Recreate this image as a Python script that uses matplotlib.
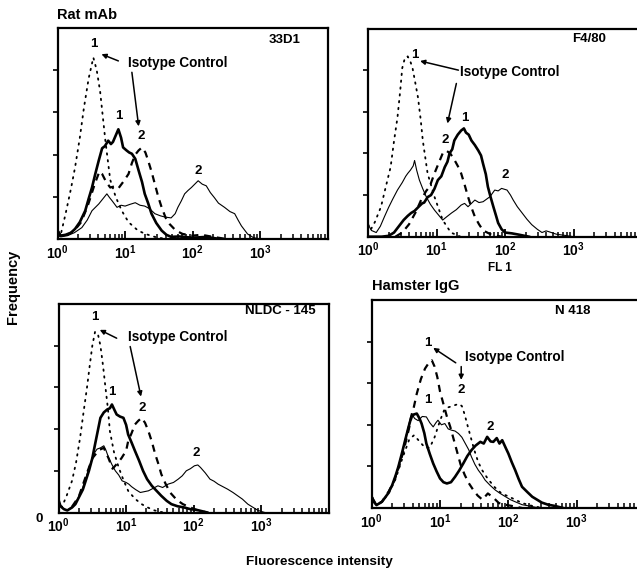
import numpy as np
import matplotlib
matplotlib.use("Agg")
import matplotlib.pyplot as plt
from matplotlib.ticker import FixedLocator, NullFormatter, FixedFormatter, LogLocator

plt.rcParams['font.family'] = ['Liberation Sans', 'DejaVu Sans']
plt.rcParams['mathtext.fontset'] = 'custom'
plt.rcParams['mathtext.rm'] = 'Liberation Sans:bold'
plt.rcParams['mathtext.bf'] = 'Liberation Sans:bold'

# ---------------- data (x in log10 decades of FL1, y in frequency units) -------------
tick_values = [1, 10, 100, 1000]
tick_labels = [r'$\mathbf{10^{0}}$', r'$\mathbf{10^{1}}$', r'$\mathbf{10^{2}}$', r'$\mathbf{10^{3}}$']
panel_names = ['33D1', 'F4/80', 'NLDC - 145', 'N 418']

# Panel A : 33D1
a_dot_d = [0.0, 0.04, 0.12, 0.2, 0.26, 0.33, 0.39, 0.46, 0.53, 0.58, 0.63, 0.67, 0.71, 0.78, 0.86, 0.95, 1.05, 1.19, 1.3, 1.44, 1.6]
a_dot_v = [0.25, 0.05, 0.6, 1.2, 1.7, 2.4, 3.1, 3.8, 4.3, 4.0, 3.5, 2.9, 2.3, 1.4, 1.0, 0.67, 0.4, 0.2, 0.12, 0.05, 0.0]
a_thick_d = [0.0, 0.05, 0.12, 0.2, 0.26, 0.33, 0.41, 0.46, 0.51, 0.56, 0.61, 0.66, 0.7, 0.75, 0.79, 0.82, 0.86, 0.9, 0.94, 0.97, 1.02, 1.06, 1.1, 1.15, 1.2, 1.25, 1.29, 1.34, 1.39, 1.46, 1.54, 1.61, 1.68, 1.8, 2.0, 2.2, 2.4]
a_thick_v = [0.2, 0.08, 0.1, 0.15, 0.24, 0.4, 0.67, 0.95, 1.22, 1.55, 1.86, 2.15, 2.2, 2.33, 2.25, 2.3, 2.45, 2.6, 2.4, 2.17, 2.1, 2.05, 2.02, 1.9, 1.62, 1.35, 1.07, 0.85, 0.6, 0.38, 0.2, 0.1, 0.05, 0.06, 0.03, 0.05, 0.0]
a_thin_d = [0.0, 0.05, 0.15, 0.25, 0.36, 0.44, 0.51, 0.56, 0.61, 0.67, 0.73, 0.77, 0.81, 0.88, 0.94, 1.0, 1.07, 1.15, 1.22, 1.29, 1.36, 1.44, 1.52, 1.59, 1.68, 1.74, 1.78, 1.83, 1.88, 1.93, 1.98, 2.03, 2.08, 2.14, 2.2, 2.26, 2.32, 2.38, 2.47, 2.55, 2.62, 2.67, 2.72, 2.81, 2.9, 3.0]
a_thin_v = [0.2, 0.05, 0.08, 0.15, 0.27, 0.45, 0.67, 0.75, 0.83, 0.95, 1.07, 0.98, 0.9, 0.75, 0.8, 0.78, 0.82, 0.86, 0.8, 0.78, 0.72, 0.6, 0.55, 0.52, 0.5, 0.6, 0.75, 0.9, 1.07, 1.15, 1.22, 1.3, 1.38, 1.3, 1.26, 1.1, 0.98, 0.85, 0.75, 0.65, 0.6, 0.45, 0.31, 0.12, 0.03, 0.0]
a_dash_d = [0.0, 0.05, 0.15, 0.25, 0.35, 0.45, 0.55, 0.62, 0.66, 0.72, 0.78, 0.85, 0.9, 0.97, 1.05, 1.1, 1.15, 1.2, 1.25, 1.3, 1.34, 1.39, 1.44, 1.49, 1.54, 1.6, 1.66, 1.75, 1.85, 2.0, 2.13, 2.3, 2.5]
a_dash_v = [0.2, 0.05, 0.1, 0.2, 0.4, 0.8, 1.3, 1.6, 1.54, 1.35, 1.22, 1.25, 1.2, 1.35, 1.54, 1.8, 2.0, 2.1, 2.17, 2.05, 1.86, 1.6, 1.3, 1.0, 0.75, 0.5, 0.35, 0.2, 0.12, 0.08, 0.1, 0.05, 0.0]

# Panel B : F4/80
b_dot_d = [0.0, 0.04, 0.1, 0.19, 0.26, 0.33, 0.38, 0.43, 0.47, 0.5, 0.54, 0.58, 0.62, 0.65, 0.69, 0.73, 0.77, 0.8, 0.87, 0.97, 1.09, 1.21, 1.35]
b_dot_v = [0.3, 0.17, 0.35, 0.72, 1.2, 1.67, 2.3, 2.86, 3.5, 4.05, 4.3, 4.33, 4.2, 4.05, 3.7, 3.34, 2.8, 2.31, 1.52, 0.96, 0.4, 0.1, 0.0]
b_thin_d = [0.0, 0.05, 0.12, 0.18, 0.24, 0.3, 0.36, 0.43, 0.5, 0.55, 0.58, 0.62, 0.66, 0.68, 0.71, 0.75, 0.8, 0.85, 0.91, 0.97, 1.03, 1.09, 1.15, 1.22, 1.29, 1.36, 1.41, 1.46, 1.51, 1.56, 1.62, 1.68, 1.73, 1.78, 1.85, 1.9, 1.95, 2.03, 2.08, 2.12, 2.18, 2.25, 2.32, 2.39, 2.47, 2.54, 2.6, 2.64, 2.75, 2.88, 3.0]
b_thin_v = [0.3, 0.15, 0.1, 0.25, 0.48, 0.7, 0.9, 1.12, 1.3, 1.45, 1.52, 1.6, 1.7, 1.83, 1.6, 1.36, 1.15, 0.96, 0.78, 0.64, 0.52, 0.4, 0.48, 0.57, 0.65, 0.76, 0.8, 0.72, 0.8, 0.88, 0.82, 0.84, 0.9, 0.96, 1.12, 1.1, 1.16, 1.12, 1.0, 0.88, 0.72, 0.57, 0.42, 0.29, 0.18, 0.1, 0.14, 0.12, 0.06, 0.03, 0.0]
b_thick_d = [0.0, 0.1, 0.2, 0.3, 0.38, 0.45, 0.52, 0.58, 0.63, 0.68, 0.74, 0.79, 0.82, 0.87, 0.92, 0.97, 1.02, 1.07, 1.12, 1.16, 1.19, 1.23, 1.26, 1.31, 1.36, 1.4, 1.43, 1.47, 1.51, 1.56, 1.61, 1.65, 1.68, 1.72, 1.75, 1.79, 1.83, 1.87, 1.9, 1.95, 2.0, 2.1, 2.2, 2.35]
b_thick_v = [0.0, 0.0, 0.0, 0.02, 0.1, 0.25, 0.4, 0.5, 0.57, 0.62, 0.72, 0.8, 0.82, 0.95, 1.0, 1.15, 1.36, 1.45, 1.67, 1.8, 2.0, 2.1, 2.31, 2.45, 2.55, 2.6, 2.5, 2.45, 2.31, 2.2, 2.07, 1.95, 1.75, 1.5, 1.2, 0.95, 0.72, 0.5, 0.33, 0.18, 0.1, 0.08, 0.05, 0.0]
b_dash_d = [0.4, 0.5, 0.6, 0.7, 0.78, 0.85, 0.9, 0.97, 1.04, 1.09, 1.14, 1.2, 1.26, 1.31, 1.36, 1.41, 1.46, 1.51, 1.56, 1.62, 1.68, 1.8, 1.95]
b_dash_v = [0.0, 0.1, 0.3, 0.6, 0.9, 1.1, 1.2, 1.52, 1.8, 2.0, 2.07, 2.0, 1.85, 1.7, 1.52, 1.25, 0.96, 0.7, 0.48, 0.3, 0.15, 0.05, 0.0]

# Panel C : NLDC-145
c_dot_d = [0.0, 0.05, 0.12, 0.2, 0.26, 0.32, 0.37, 0.42, 0.46, 0.5, 0.54, 0.58, 0.62, 0.66, 0.69, 0.73, 0.76, 0.82, 0.89, 0.96, 1.03, 1.13, 1.23, 1.32, 1.42, 1.55]
c_dot_v = [0.3, 0.13, 0.4, 0.76, 1.2, 1.8, 2.4, 2.98, 3.5, 4.0, 4.33, 4.3, 4.0, 3.5, 3.06, 2.5, 1.95, 1.45, 1.08, 0.78, 0.52, 0.33, 0.2, 0.12, 0.05, 0.0]
c_thick_d = [0.0, 0.03, 0.08, 0.13, 0.2, 0.25, 0.3, 0.36, 0.41, 0.45, 0.5, 0.54, 0.58, 0.62, 0.67, 0.72, 0.76, 0.79, 0.83, 0.86, 0.91, 0.96, 1.0, 1.03, 1.08, 1.13, 1.19, 1.25, 1.31, 1.38, 1.45, 1.52, 1.6, 1.67, 1.76, 1.86, 1.95, 2.05, 2.2]
c_thick_v = [0.3, 0.15, 0.08, 0.05, 0.12, 0.2, 0.36, 0.55, 0.8, 1.0, 1.3, 1.63, 1.95, 2.27, 2.4, 2.47, 2.5, 2.59, 2.45, 2.35, 2.3, 2.27, 2.1, 1.87, 1.68, 1.48, 1.25, 1.0, 0.8, 0.64, 0.52, 0.4, 0.28, 0.2, 0.15, 0.12, 0.08, 0.06, 0.0]
c_thin_d = [0.0, 0.03, 0.08, 0.13, 0.2, 0.25, 0.3, 0.36, 0.41, 0.45, 0.5, 0.54, 0.57, 0.62, 0.67, 0.7, 0.74, 0.79, 0.84, 0.89, 0.94, 1.0, 1.04, 1.08, 1.14, 1.21, 1.27, 1.33, 1.4, 1.47, 1.54, 1.62, 1.7, 1.77, 1.83, 1.89, 1.95, 2.01, 2.06, 2.1, 2.17, 2.24, 2.3, 2.36, 2.43, 2.5, 2.58, 2.65, 2.72, 2.8, 2.88, 2.95, 3.05]
c_thin_v = [0.3, 0.15, 0.08, 0.05, 0.14, 0.22, 0.38, 0.6, 0.85, 1.08, 1.3, 1.45, 1.52, 1.55, 1.6, 1.5, 1.32, 1.15, 1.0, 0.9, 0.76, 0.72, 0.68, 0.62, 0.55, 0.48, 0.5, 0.52, 0.58, 0.64, 0.6, 0.68, 0.72, 0.8, 0.88, 1.0, 1.05, 1.12, 1.14, 1.08, 0.95, 0.8, 0.75, 0.68, 0.62, 0.56, 0.48, 0.4, 0.32, 0.2, 0.12, 0.05, 0.0]
c_dash_d = [0.2, 0.3, 0.4, 0.5, 0.6, 0.67, 0.74, 0.8, 0.86, 0.93, 1.0, 1.03, 1.08, 1.13, 1.18, 1.23, 1.28, 1.33, 1.38, 1.43, 1.48, 1.52, 1.58, 1.65, 1.75, 1.84, 1.95, 2.06, 2.2]
c_dash_v = [0.14, 0.38, 0.85, 1.3, 1.5, 1.55, 1.3, 1.05, 1.16, 1.3, 1.48, 1.71, 1.9, 2.11, 2.2, 2.27, 2.15, 1.95, 1.7, 1.4, 1.15, 0.92, 0.7, 0.48, 0.3, 0.2, 0.12, 0.05, 0.0]

# Panel D : N 418
d_thick_d = [0.0, 0.03, 0.07, 0.15, 0.24, 0.3, 0.35, 0.39, 0.44, 0.49, 0.54, 0.58, 0.62, 0.66, 0.7, 0.73, 0.77, 0.8, 0.85, 0.9, 0.95, 1.0, 1.05, 1.1, 1.16, 1.22, 1.28, 1.34, 1.4, 1.46, 1.52, 1.59, 1.64, 1.69, 1.74, 1.78, 1.83, 1.87, 1.91, 1.96, 2.0, 2.05, 2.1, 2.15, 2.2, 2.28, 2.35, 2.42, 2.49, 2.58, 2.68, 2.8]
d_thick_v = [0.27, 0.15, 0.07, 0.15, 0.35, 0.55, 0.78, 0.99, 1.3, 1.63, 1.95, 2.19, 2.25, 2.27, 2.15, 2.03, 1.8, 1.55, 1.3, 1.07, 0.88, 0.71, 0.62, 0.59, 0.62, 0.75, 0.9, 1.07, 1.25, 1.39, 1.5, 1.59, 1.55, 1.71, 1.6, 1.59, 1.68, 1.55, 1.63, 1.45, 1.31, 1.1, 0.91, 0.7, 0.51, 0.38, 0.27, 0.2, 0.13, 0.08, 0.05, 0.0]
d_thin_d = [0.0, 0.03, 0.07, 0.15, 0.24, 0.3, 0.35, 0.39, 0.44, 0.49, 0.54, 0.58, 0.63, 0.68, 0.74, 0.8, 0.85, 0.9, 0.94, 0.97, 1.02, 1.07, 1.12, 1.17, 1.22, 1.27, 1.32, 1.37, 1.42, 1.46, 1.51, 1.56, 1.61, 1.66, 1.73, 1.81, 1.88, 1.96, 2.03, 2.1, 2.2, 2.3, 2.45]
d_thin_v = [0.27, 0.15, 0.07, 0.15, 0.35, 0.55, 0.78, 1.0, 1.3, 1.65, 1.98, 2.27, 2.15, 2.1, 2.2, 2.19, 2.05, 1.95, 2.05, 2.11, 2.0, 2.03, 1.9, 1.87, 1.85, 1.79, 1.7, 1.55, 1.4, 1.23, 1.05, 0.91, 0.8, 0.67, 0.55, 0.43, 0.35, 0.27, 0.2, 0.15, 0.08, 0.05, 0.0]
d_dash_d = [0.0, 0.07, 0.15, 0.25, 0.33, 0.4, 0.47, 0.53, 0.6, 0.66, 0.72, 0.78, 0.84, 0.88, 0.92, 0.96, 1.0, 1.05, 1.1, 1.15, 1.2, 1.25, 1.3, 1.36, 1.42, 1.48, 1.55, 1.62, 1.7, 1.78, 1.86, 1.95, 2.05, 2.2]
d_dash_v = [0.27, 0.07, 0.15, 0.4, 0.65, 1.0, 1.4, 1.8, 2.3, 2.75, 3.1, 3.35, 3.5, 3.55, 3.4, 3.15, 2.8, 2.5, 2.2, 1.95, 1.65, 1.35, 1.05, 0.8, 0.6, 0.45, 0.3, 0.2, 0.35, 0.25, 0.12, 0.08, 0.05, 0.0]
d_dot_d = [0.0, 0.07, 0.15, 0.25, 0.35, 0.45, 0.55, 0.62, 0.7, 0.78, 0.85, 0.92, 1.0, 1.06, 1.12, 1.18, 1.23, 1.28, 1.32, 1.36, 1.4, 1.45, 1.5, 1.56, 1.62, 1.7, 1.8, 1.9, 2.0, 2.1, 2.2, 2.35, 2.5]
d_dot_v = [0.27, 0.07, 0.15, 0.35, 0.7, 1.2, 1.65, 1.75, 1.6, 1.45, 1.45, 1.7, 2.1, 2.35, 2.42, 2.45, 2.48, 2.5, 2.45, 2.25, 2.0, 1.7, 1.4, 1.1, 0.9, 0.7, 0.5, 0.35, 0.28, 0.2, 0.12, 0.05, 0.0]

# ---------------- figure ----------------
W, H = 637, 575
fig = plt.figure(figsize=(W / 100, H / 100), dpi=100)

def rect(left, top, right, bottom):
    return [left / W, 1 - bottom / H, (right - left) / W, (bottom - top) / H]

rects = [rect(57.5, 28, 328, 239), rect(368, 28.5, 642, 236.7),
         rect(58.5, 304, 329, 512.5), rect(371.7, 300, 645, 508)]

DOT = dict(color='black', lw=1.3, linestyle=(0, (0.8, 3.0)), dash_capstyle='round')
THIN = dict(color='black', lw=0.8)
THICK = dict(color='black', lw=1.9)
DASH = dict(color='black', lw=1.6, linestyle=(0, (3.2, 2.6)))

curves = [
    [(a_dot_d, a_dot_v, DOT), (a_thin_d, a_thin_v, THIN), (a_dash_d, a_dash_v, DASH), (a_thick_d, a_thick_v, THICK)],
    [(b_dot_d, b_dot_v, DOT), (b_thin_d, b_thin_v, THIN), (b_dash_d, b_dash_v, DASH), (b_thick_d, b_thick_v, THICK)],
    [(c_dot_d, c_dot_v, DOT), (c_thin_d, c_thin_v, THIN), (c_dash_d, c_dash_v, DASH), (c_thick_d, c_thick_v, THICK)],
    [(d_dot_d, d_dot_v, DOT), (d_thin_d, d_thin_v, THIN), (d_dash_d, d_dash_v, DASH), (d_thick_d, d_thick_v, THICK)],
]

lab = dict(fontsize=9.5, fontweight='bold', ha='center', va='center')
arr = dict(arrowstyle='-|>', color='black', lw=1.1, mutation_scale=7, shrinkA=0, shrinkB=0)

# annotation positions (decade, value)
annots = [
    dict(n1=(0.53, 4.62), a1=((0.9, 4.22), (0.65, 4.38)), txt=(1.04, 4.18), a2=((1.1, 3.95), (1.2, 2.67)),
         n2=(1.24, 2.44), s1=(0.9, 2.91), s2=(2.08, 1.6), name=(3.6, 4.71)),
    dict(n1=(0.68, 4.36), a1=((1.32, 4.0), (0.76, 4.22)), txt=(1.34, 3.96), a2=((1.29, 3.68), (1.16, 2.72)),
         n2=(1.12, 2.32), s1=(1.42, 2.84), s2=(2.0, 1.48), name=(3.48, 4.75)),
    dict(n1=(0.54, 4.7), a1=((0.86, 4.18), (0.61, 4.38)), txt=(1.03, 4.22), a2=((1.06, 3.98), (1.22, 2.78)),
         n2=(1.24, 2.5), s1=(0.79, 2.9), s2=(2.04, 1.42), name=(3.8, 4.83)),
    dict(n1=(0.82, 3.97), a1=((1.23, 3.49), (0.9, 3.85)), txt=(1.37, 3.64), a2=((1.31, 3.4), (1.31, 3.08)),
         n2=(1.31, 2.84), s1=(0.82, 2.6), s2=(1.73, 1.95), name=(3.2, 4.74)),
]

for i in range(4):
    ax = fig.add_axes(rects[i])
    ax.set_xscale('log')
    for dd, vv, sty in curves[i]:
        ax.plot(10 ** np.array(dd), vv, **sty)
    ax.set_xlim(1, 1e4)
    ax.set_ylim(0, 5)
    for sp in ax.spines.values():
        sp.set_linewidth(1.6)
    ax.xaxis.set_major_locator(FixedLocator(tick_values))
    ax.xaxis.set_major_formatter(FixedFormatter(tick_labels))
    ax.xaxis.set_minor_locator(LogLocator(base=10, subs=np.arange(2, 10), numticks=20))
    ax.xaxis.set_minor_formatter(NullFormatter())
    ax.tick_params(axis='x', which='major', direction='in', length=6, width=1.3, labelsize=10, pad=3)
    ax.tick_params(axis='x', which='minor', direction='in', length=3.5, width=1.1)
    ax.set_yticks([1, 2, 3, 4])
    ax.set_yticklabels([])
    ax.tick_params(axis='y', which='major', direction='out', length=3.5, width=1.2)
    ax.tick_params(axis='y', which='minor', left=False)

    an = annots[i]
    X = lambda p: (10 ** p[0], p[1])
    ax.text(*X(an['n1']), '1', **lab)
    ax.annotate('', xy=X(an['a1'][1]), xytext=X(an['a1'][0]), arrowprops=arr)
    ax.text(*X(an['txt']), 'Isotype Control', fontsize=9.8, fontweight='bold', ha='left', va='center')
    ax.annotate('', xy=X(an['a2'][1]), xytext=X(an['a2'][0]), arrowprops=arr)
    ax.text(*X(an['n2']), '2', **lab)
    ax.text(*X(an['s1']), '1', **lab)
    ax.text(*X(an['s2']), '2', **lab)
    ax.text(*X(an['name']), panel_names[i], fontsize=9.5, fontweight='bold', ha='right', va='center')
    if i == 2:
        ax.text(-0.07, -0.03, '0', transform=ax.transAxes, fontsize=9.5, fontweight='bold',
                ha='center', va='center')

fig.text(57 / W, 1 - 15 / H, 'Rat mAb', fontsize=10.5, fontweight='bold', ha='left', va='center')
fig.text(372 / W, 1 - 286 / H, 'Hamster IgG', fontsize=10.5, fontweight='bold', ha='left', va='center')
fig.text(500 / W, 1 - 268 / H, 'FL 1', fontsize=8.5, fontweight='bold', ha='center', va='center')
fig.text(13 / W, 1 - 287 / H, 'Frequency', fontsize=10.5, fontweight='bold', rotation=90, ha='center', va='center')
fig.text(319 / W, 1 - 562 / H, 'Fluorescence intensity', fontsize=9.7, fontweight='bold', ha='center', va='center')

fig.savefig('out.png', dpi=100)
